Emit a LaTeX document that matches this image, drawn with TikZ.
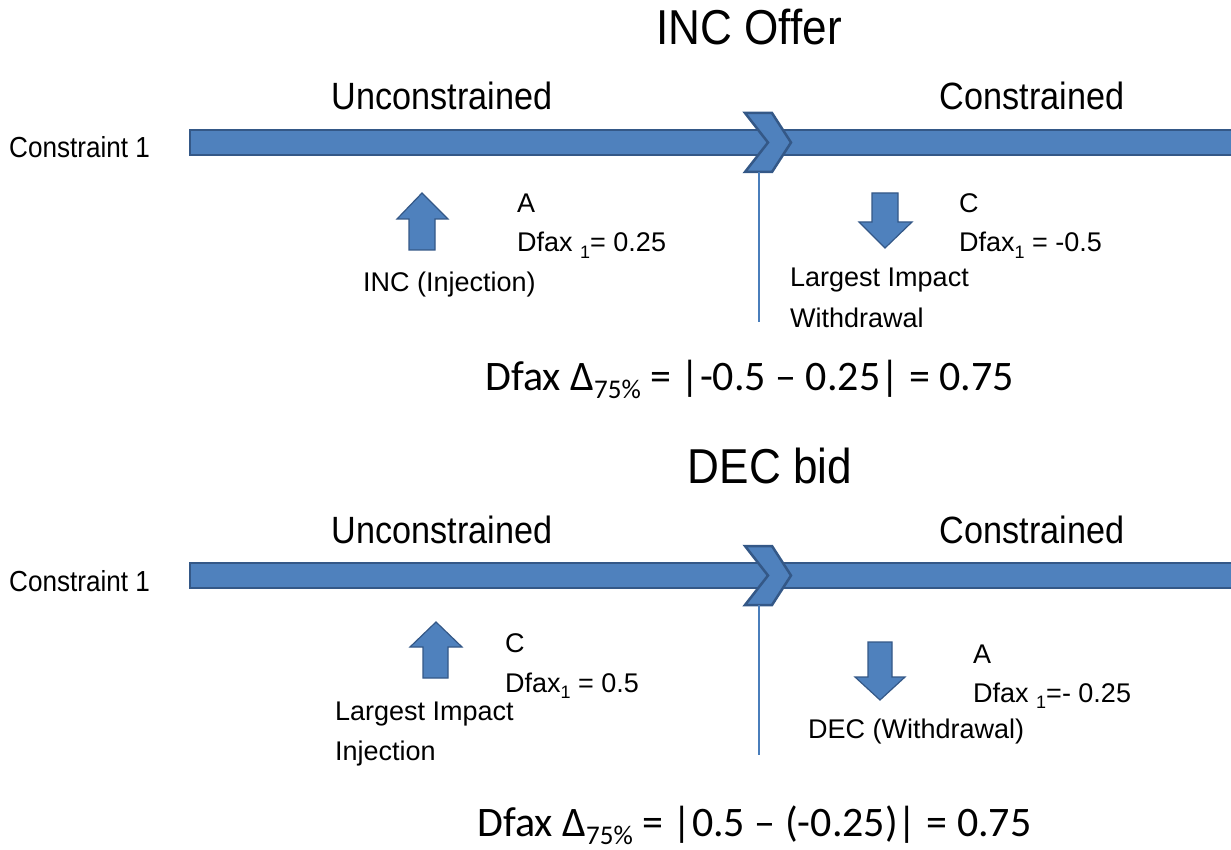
\documentclass[tikz,border=0pt]{standalone}
\usepackage{fontspec}
\setmainfont{Liberation Sans}
\newfontfamily\narrowfont{Liberation Sans}[FakeStretch=0.9]
\newfontfamily\calfont{Carlito}
\usetikzlibrary{positioning}
\definecolor{barblue}{RGB}{79,129,189}
\definecolor{bardark}{RGB}{52,88,135}
\definecolor{lineblue}{RGB}{74,126,187}
\tikzset{
  bar/.style={fill=barblue,draw=bardark,line width=2.5pt},
  blockarrow/.style={fill=barblue,draw=bardark,line width=1.2pt,line join=miter},
  divider/.style={draw=lineblue,line width=1.6pt},
  title/.style={font=\narrowfont\fontsize{49}{56}\selectfont,inner sep=0pt,anchor=base},
  side/.style={font=\narrowfont\fontsize{38}{44}\selectfont,inner sep=0pt,anchor=base},
  cons/.style={font=\narrowfont\fontsize{29}{34}\selectfont,inner sep=0pt,anchor=base west},
  lbl/.style={font=\fontsize{27}{32}\selectfont,inner sep=0pt,anchor=base west},
  eqn/.style={font=\calfont\fontsize{42}{48}\selectfont,inner sep=0pt,anchor=base west},
}
\newcommand{\lsub}[1]{\raisebox{-6pt}{\fontsize{18}{18}\selectfont #1}}
\newcommand{\esub}[1]{\raisebox{-8pt}{\fontsize{27}{27}\selectfont #1}}

\begin{document}
\begin{tikzpicture}[x=1pt,y=-1pt]
\useasboundingbox (0,0) rectangle (1231,850);

% ============ both bands: bar, chevron, divider, side labels ============
\foreach \p/\dy in {inc/0,dec/433} {
  \filldraw[bar] (190,{130+\dy}) rectangle (1245,{155+\dy});
  \filldraw[bar] (745,{113+\dy}) -- (772,{113+\dy}) -- (791,{142.5+\dy})
    -- (772,{172+\dy}) -- (745,{172+\dy}) -- (768,{142.5+\dy}) -- cycle;
  \draw[divider] (759,{172+\dy}) -- (759,{322+\dy});
  \node[cons] (\p-cons) at (9,{158+\dy}) {Constraint 1};
  \node[side] (\p-unc) at (442,{110+\dy}) {Unconstrained};
  \node[side] (\p-con) at (1032,{110+\dy}) {Constrained};
}

% ============ band 1: INC offer ============
\node[title] (inc-title) at (749,45) {INC Offer};
\filldraw[blockarrow] (422,193) -- (448,219) -- (435,219) -- (435,250)
  -- (409,250) -- (409,219) -- (397,219) -- cycle;
\node[lbl] (inc-a) at (517,213) {A};
\node[lbl] (inc-adfax) at (517,252) {Dfax \lsub{1}= 0.25};
\node[lbl] (inc-inj) at (363,291) {INC (Injection)};
\filldraw[blockarrow] (872,193) -- (898,193) -- (898,222) -- (912,222)
  -- (885,248) -- (859,222) -- (872,222) -- cycle;
\node[lbl] (inc-c) at (959,213) {C};
\node[lbl] (inc-cdfax) at (959,252) {Dfax\lsub{1} = -0.5};
\node[lbl] (inc-wd1) at (790,287) {Largest Impact};
\node[lbl] (inc-wd2) at (790,327) {Withdrawal};
\node[eqn] (inc-eqn) at (485,390) {Dfax Δ\esub{75\%} = |-0.5 – 0.25| = 0.75};

% ============ band 2: DEC bid ============
\node[title] (dec-title) at (770,483) {DEC bid};
\filldraw[blockarrow] (436,622) -- (462,647) -- (448,647) -- (448,678)
  -- (423,678) -- (423,647) -- (410,647) -- cycle;
\node[lbl] (dec-c) at (505,652) {C};
\node[lbl] (dec-cdfax) at (505,692) {Dfax\lsub{1} = 0.5};
\node[lbl] (dec-inj1) at (335,720) {Largest Impact};
\node[lbl] (dec-inj2) at (335,760) {Injection};
\filldraw[blockarrow] (868,642) -- (892,642) -- (892,677) -- (905,677)
  -- (880,700) -- (855,677) -- (868,677) -- cycle;
\node[lbl] (dec-a) at (973,663) {A};
\node[lbl] (dec-adfax) at (973,702) {Dfax \lsub{1}=- 0.25};
\node[lbl] (dec-wd) at (808,738) {DEC (Withdrawal)};
\node[eqn] (dec-eqn) at (477,836) {Dfax Δ\esub{75\%} = |0.5 – (-0.25)| = 0.75};
\end{tikzpicture}
\end{document}
